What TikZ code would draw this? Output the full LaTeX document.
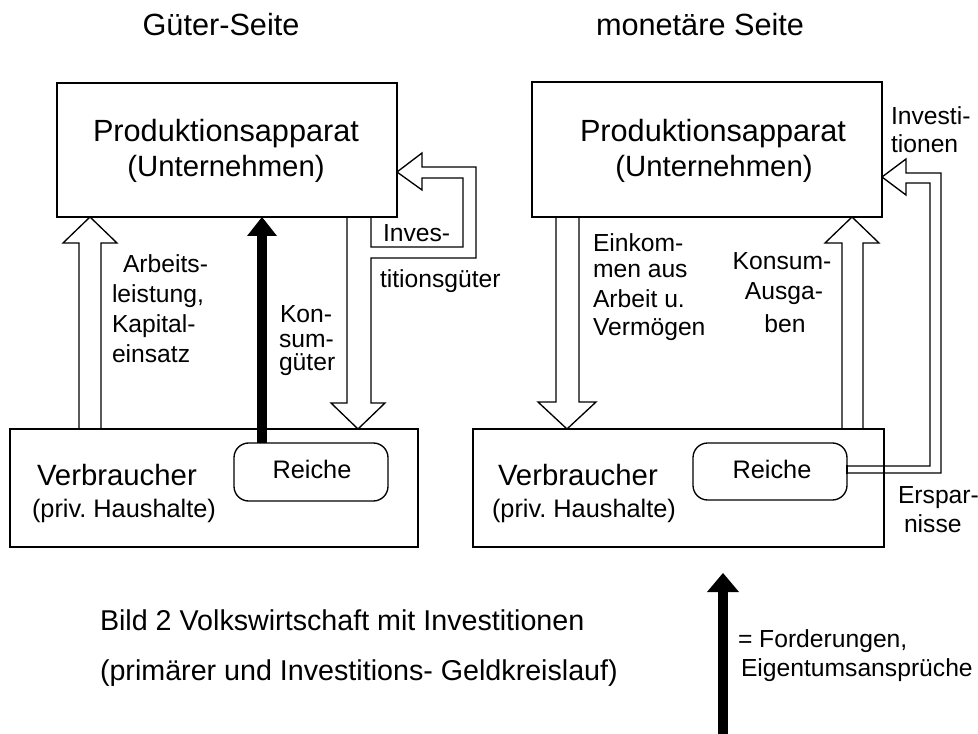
\documentclass[tikz,border=0pt]{standalone}
\usepackage{fontspec}
\setmainfont{Liberation Sans}
\newcommand{\fsz}[1]{\fontsize{#1}{#1}\selectfont}
\begin{document}
\begin{tikzpicture}[x=0.75pt,y=-0.75pt,
  box/.style={draw,line width=1pt,inner sep=0pt,outer sep=0pt},
  reich/.style={box,rounded corners=11pt},
  tx/.style={inner sep=0pt,outer sep=0pt,anchor=base west},
  tc/.style={inner sep=0pt,outer sep=0pt,anchor=base},
  hollow/.style={draw,line width=1pt,line join=miter},
  solidarrow/.style={line width=7pt},
  ttltxt/.style={font=\fsz{23pt}},
  bigtxt/.style={font=\fsz{23pt}},
  midtxt/.style={font=\fsz{22pt}},
  smltxt/.style={font=\fsz{19pt}},
  lbltxt/.style={font=\fsz{18.5pt}},
  captxt/.style={font=\fsz{21.5pt}}
]
\useasboundingbox (0,0) rectangle (978,734);

% titles
\node[tc,ttltxt] (t1) at (221,36) {Güter-Seite};
\node[tc,ttltxt] (t2) at (700,36) {monetäre Seite};

% boxes
\node[box,minimum width=255pt,minimum height=100.5pt] (ltop) at (227,150) {};
\node[box,minimum width=262.5pt,minimum height=101.25pt] (rtop) at (707,149.5) {};
\node[box,minimum width=306pt,minimum height=88.5pt] (lbot) at (214,488) {};
\node[box,minimum width=308.25pt,minimum height=88.5pt] (rbot) at (678.5,488) {};
\node[reich,minimum width=115.5pt,minimum height=43.5pt] (lrei) at (311,472) {};
\node[reich,minimum width=115.5pt,minimum height=42.75pt] (rrei) at (770,471.5) {};

% box texts
\node[tc,bigtxt] (lp1) at (226,142) {Produktionsapparat};
\node[tc,midtxt] (lp2) at (226,177) {(Unternehmen)};
\node[tc,bigtxt] (rp1) at (713,142) {Produktionsapparat};
\node[tc,midtxt] (rp2) at (714,177) {(Unternehmen)};
\node[tx,midtxt] (lv1) at (37,485) {Verbraucher};
\node[tx,smltxt] (lv2) at (32,517) {(priv.\ Haushalte)};
\node[tx,midtxt] (rv1) at (498,485) {Verbraucher};
\node[tx,smltxt] (rv2) at (492,517) {(priv.\ Haushalte)};
\node[tc,smltxt] (lr) at (312,478) {Reiche};
\node[tc,smltxt] (rr) at (772,478) {Reiche};

% hollow arrows, left side
\draw[hollow] (79,0 |- lbot.north) -- (79,243) -- (63,243) -- (90,0 |- ltop.south)
  -- (117,243) -- (101,243) -- (101,0 |- lbot.north);
\draw[hollow] (347,0 |- ltop.south) -- (347,403) -- (331,403) -- (358,0 |- lbot.north)
  -- (385,403) -- (371,403) -- (371,258) -- (476,258) -- (476,167) -- (422,167)
  -- (422,153) -- (ltop.east |- 0,172) -- (422,190) -- (422,178) -- (463,178)
  -- (463,247) -- (371,247) -- (371,0 |- ltop.south);

% hollow arrows, right side
\draw[hollow] (556,0 |- rtop.south) -- (556,402) -- (538,402) -- (567,0 |- rbot.north)
  -- (596,402) -- (579,402) -- (579,0 |- rtop.south);
\draw[hollow] (842,0 |- rbot.north) -- (842,243) -- (825,243) -- (852,0 |- rtop.south)
  -- (879,243) -- (863,243) -- (863,0 |- rbot.north);
\draw[hollow] (rrei.east |- 0,473) -- (941,473) -- (941,173) -- (906,173) -- (906,159)
  -- (rtop.east |- 0,177) -- (906,195) -- (906,183) -- (930,183) -- (930,466)
  -- (rrei.east |- 0,466);
\draw[line width=2pt] (rrei.east |- 0,465) -- (rrei.east |- 0,474);

% solid arrows
\draw[solidarrow] (262,0 |- lrei.north) -- (262,236);
\fill (247,236) -- (262,0 |- ltop.south) -- (277,236) -- cycle;
\coordinate (legbot) at (723,745);
\coordinate (legtip) at (723,573);
\draw[solidarrow] (legbot) -- (723,592);
\fill (707,592) -- (legtip) -- (739,592) -- cycle;

% arrow labels, left
\node[tx,lbltxt] (a1) at (123,273) {Arbeits-};
\node[tx,lbltxt] (a2) at (112,302) {leistung,};
\node[tx,lbltxt] (a3) at (112,332) {Kapital-};
\node[tx,lbltxt] (a4) at (112,362) {einsatz};
\node[tx,lbltxt] (k1) at (280,323) {Kon-};
\node[tx,lbltxt] (k2) at (279,347) {sum-};
\node[tx,lbltxt] (k3) at (279,370) {güter};
\node[tx,lbltxt] (i1) at (383,242) {Inves-};
\node[tx,lbltxt] (i2) at (380,288) {titionsgüter};

% arrow labels, right
\node[tx,lbltxt] (e1) at (593,252) {Einkom-};
\node[tx,lbltxt] (e2) at (593,278) {men aus};
\node[tx,lbltxt] (e3) at (593,307) {Arbeit u.};
\node[tx,lbltxt] (e4) at (593,335) {Vermögen};
\node[tc,lbltxt] (ka1) at (782,270) {Konsum-};
\node[tc,lbltxt] (ka2) at (784,300) {Ausga-};
\node[tc,lbltxt] (ka3) at (785,333) {ben};
\node[tx,lbltxt] (iv1) at (891,125) {Investi-};
\node[tx,lbltxt] (iv2) at (891,153) {tionen};
\node[tx,lbltxt] (es1) at (898,503) {Erspar-};
\node[tx,lbltxt] (es2) at (904,532) {nisse};

% legend and caption
\node[tx,lbltxt] (lg1) at (738,647) {= Forderungen,};
\node[tx,lbltxt] (lg2) at (741,676) {Eigentumsansprüche};
\node[tx,captxt] (c1) at (100,630) {Bild 2 Volkswirtschaft mit Investitionen};
\node[tx,captxt] (c2) at (100,680) {(primärer und Investitions- Geldkreislauf)};
\end{tikzpicture}
\end{document}
